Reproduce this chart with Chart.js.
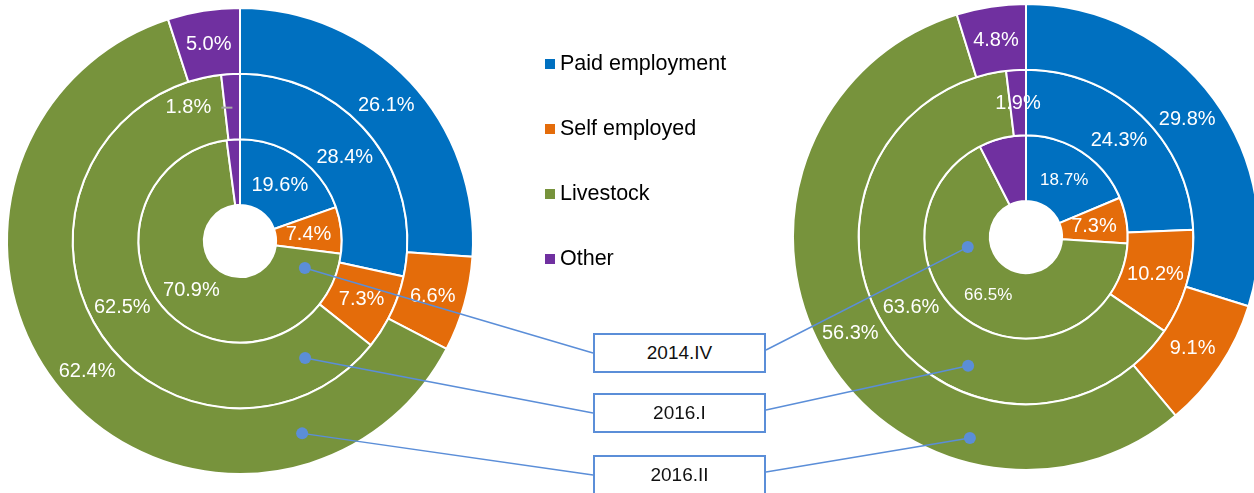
<!DOCTYPE html>
<html>
<head>
<meta charset="utf-8">
<script src="https://cdn.jsdelivr.net/npm/chart.js@4"></script>
<style>
  body { margin: 0; width: 1254px; height: 493px; overflow: hidden; background: #fff; position: relative;
         font-family: "Liberation Sans", Arial, sans-serif; }
  canvas { position: absolute; top: 0; }
  #leftChart { left: 0; }
  #rightChart { left: 786px; }
  #callouts { left: 0; pointer-events: none; z-index: 2; }
  .legend-item { position: absolute; left: 545px; height: 30px; line-height: 30px; font-size: 21.5px; color: #000; white-space: nowrap; z-index: 3; }
  .legend-item span { display: inline-block; width: 10px; height: 10px; margin-right: 5px; vertical-align: 1px; }
  .period-box { position: absolute; left: 593px; width: 169px; height: 36px; border: 2px solid #5b8ed8; background: #fff;
                font-size: 19px; line-height: 36px; text-align: center; color: #111; z-index: 3; }
</style>
</head>
<body>
<canvas id="leftChart" width="480" height="482"></canvas>
<canvas id="rightChart" width="480" height="474"></canvas>
<canvas id="callouts" width="1254" height="493"></canvas>
<div id="legend"></div>
<div id="boxes"></div>
<script>
// categories and ring periods (rings listed outer -> inner, Chart.js draws dataset 0 outermost)
const categories = ["Paid employment", "Self employed", "Livestock", "Other"]
const periods = ["2016.II", "2016.I", "2014.IV"]
const colors = ["#0070C0", "#E46C0A", "#77933C", "#7030A0"]

// left doughnut
const left2016II = [26.1, 6.6, 62.4, 5.0]
const left2016I = [28.4, 7.3, 62.5, 1.8]
const left2014IV = [19.6, 7.4, 70.9, 2.1]

// right doughnut
const right2016II = [29.8, 9.1, 56.3, 4.8]
const right2016I = [24.3, 10.2, 63.6, 1.9]
const right2014IV = [18.7, 7.3, 66.5, 7.5]

// percentage labels drawn at the middle of each slice
const sliceLabels = {
  id: "sliceLabels",
  afterDatasetsDraw(chart, args, opts) {
    const ctx = chart.ctx
    ctx.save()
    ctx.fillStyle = "#fff"
    ctx.textAlign = "center"
    ctx.textBaseline = "middle"
    chart.data.datasets.forEach((ds, i) => {
      const meta = chart.getDatasetMeta(i)
      meta.data.forEach((arc, j) => {
        if (opts.hidden.some(h => h[0] === i && h[1] === j)) return
        const small = opts.small.some(h => h[0] === i && h[1] === j)
        ctx.font = (small ? 17 : 20) + 'px "Liberation Sans", Arial, sans-serif'
        const p = arc.tooltipPosition()
        let x = p.x
        const shift = opts.shifts.find(s => s.ds === i && s.idx === j)
        if (shift) {
          x += shift.dx
          ctx.strokeStyle = "#a6a6a6"
          ctx.lineWidth = 2
          ctx.beginPath()
          ctx.moveTo(x + 33, p.y + 1)
          ctx.lineTo(p.x, p.y + 1)
          ctx.stroke()
        }
        ctx.fillText(ds.data[j].toFixed(1) + "%", x, p.y + 1)
      })
    })
    ctx.restore()
  }
}

function makeRings(outer, middle, inner) {
  return [outer, middle, inner].map((values, i) => ({
    label: periods[i],
    data: values,
    backgroundColor: colors,
    borderColor: "#fff",
    borderWidth: 2,
  }))
}

function makeChart(id, datasets, labelOpts) {
  return new Chart(document.getElementById(id), {
    type: "doughnut",
    data: { labels: categories, datasets: datasets },
    options: {
      responsive: false,
      animation: false,
      devicePixelRatio: 1,
      radius: 233,
      cutout: "15.5%",
      layout: { padding: 0 },
      plugins: {
        legend: { display: false },
        tooltip: { enabled: false },
        sliceLabels: labelOpts,
      },
    },
    plugins: [sliceLabels],
  })
}

const leftChart = makeChart("leftChart", makeRings(left2016II, left2016I, left2014IV), {
  hidden: [[2, 3]],
  small: [],
  shifts: [{ ds: 1, idx: 3, dx: -44 }],
})

const rightChart = makeChart("rightChart", makeRings(right2016II, right2016I, right2014IV), {
  hidden: [[2, 3]],
  small: [[2, 0], [2, 2]],
  shifts: [],
})

// legend in the middle
const legend = document.getElementById("legend")
const legendTops = [48, 113, 178, 243]
categories.forEach((name, i) => {
  const item = document.createElement("div")
  item.className = "legend-item"
  item.style.top = legendTops[i] + "px"
  item.innerHTML = `<span style="background:${colors[i]}"></span>${name}`
  legend.appendChild(item)
})

// period boxes, inner ring first
const boxTops = [333, 393, 455]
const boxes = document.getElementById("boxes")
const boxEls = [2, 1, 0].map((ring, k) => {
  const box = document.createElement("div")
  box.className = "period-box"
  box.style.top = boxTops[k] + "px"
  box.textContent = periods[ring]
  boxes.appendChild(box)
  return box
})

// callout anchors: angle (deg clockwise from top) and position across the ring
const leftAnchors = [
  { ring: 2, angle: 112.6, frac: 0.52 },
  { ring: 1, angle: 150.9, frac: 0.49 },
  { ring: 0, angle: 162.1, frac: 0.53 },
]
const rightAnchors = [
  { ring: 2, angle: 260.2, frac: 0.35 },
  { ring: 1, angle: 204.2, frac: 0.6 },
  { ring: 0, angle: 195.6, frac: 0.63 },
]

function anchorPoint(chart, a) {
  const arc = chart.getDatasetMeta(a.ring).data[0]
  const r = arc.innerRadius + a.frac * (arc.outerRadius - arc.innerRadius)
  const t = (a.angle - 90) * Math.PI / 180
  return { x: chart.canvas.offsetLeft + arc.x + r * Math.cos(t), y: chart.canvas.offsetTop + arc.y + r * Math.sin(t) }
}

const cctx = document.getElementById("callouts").getContext("2d")
cctx.strokeStyle = "#5b8ed8"
cctx.fillStyle = "#5b8ed8"
cctx.lineWidth = 1.5
boxEls.forEach((box, k) => {
  const midY = box.offsetTop + box.offsetHeight / 2
  const lp = anchorPoint(leftChart, leftAnchors[k])
  const rp = anchorPoint(rightChart, rightAnchors[k])
  cctx.beginPath()
  cctx.moveTo(lp.x, lp.y)
  cctx.lineTo(box.offsetLeft, midY)
  cctx.moveTo(box.offsetLeft + box.offsetWidth, midY - 3)
  cctx.lineTo(rp.x, rp.y)
  cctx.stroke()
  ;[lp, rp].forEach(p => {
    cctx.beginPath()
    cctx.arc(p.x, p.y, 6, 0, Math.PI * 2)
    cctx.fill()
  })
})
</script>
</body>
</html>
